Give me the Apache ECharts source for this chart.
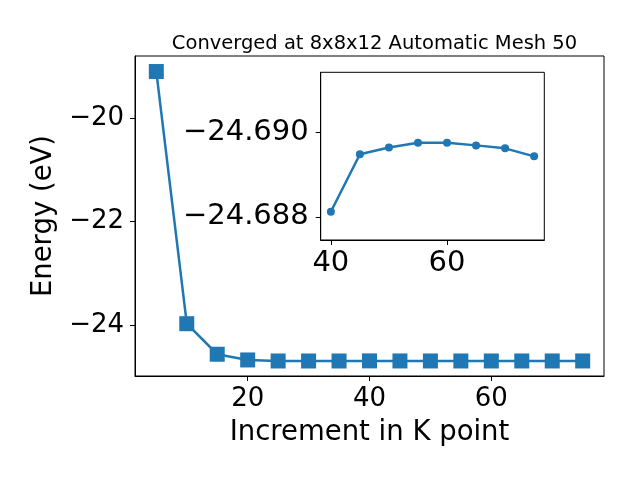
<!DOCTYPE html>
<html><head><meta charset="utf-8">
<script src="https://cdn.jsdelivr.net/npm/echarts@6/dist/echarts.min.js"></script>
<style>html,body{margin:0;padding:0;background:#fff}#c{width:640px;height:480px}</style>
</head><body><div id="c"></div>
<script>
const kPoints = [5,10,15,20,25,30,35,40,45,50,55,60,65,70,75];
const energies = [-19.10,-23.97,-24.56,-24.67,-24.69,-24.69,-24.69,-24.6881,-24.6895,-24.6896,-24.6898,-24.6898,-24.6897,-24.6896,-24.6894];
const insetK = [40,45,50,55,60,65,70,75];
const insetE = [-24.68812,-24.68948,-24.68964,-24.68975,-24.68975,-24.68969,-24.68962,-24.68943];
const mainXTicks = [20,40,60];
const mainYTicks = [-24,-22,-20];
const insetXTicks = [40,60];
const insetYTicks = [-24.690,-24.688];
const titleText = 'Converged at 8x8x12 Automatic Mesh 50';
const xName = 'Increment in K point';
const yName = 'Energy (eV)';

const FONT = 'DejaVu Sans';
const C = '#1f77b4';
const minus = s => String(s).replace('-', '\u2212');
const fmtInt = v => minus(String(Math.round(v)));
const fmt3 = v => minus(v.toFixed(3));

function axisCommon(extra) {
  return Object.assign({
    type: 'value',
    splitLine: {show: false},
    axisLine: {show: true, onZero: false, lineStyle: {color: '#000', width: 1}},
    nameTextStyle: {fontFamily: FONT, fontSize: 27.5, color: '#000'}
  }, extra);
}

const chart = echarts.init(document.getElementById('c'), null, {renderer: 'canvas'});
chart.setOption({
  animation: false,
  backgroundColor: '#fff',
  title: {
    text: titleText, left: 369.5, top: 29, textAlign: 'center',
    textStyle: {fontFamily: FONT, fontSize: 19.5, fontWeight: 'normal', color: '#000'}
  },
  grid: [
    {left: 135, top: 56, width: 469, height: 320, show: true, borderColor: '#000', borderWidth: 1, backgroundColor: '#fff', containLabel: false},
    {left: 320.7, top: 72.3, width: 223.6, height: 167.7, show: true, borderColor: '#000', borderWidth: 1, backgroundColor: '#fff', containLabel: false, z: 10}
  ],
  xAxis: [
    axisCommon({gridIndex: 0, min: 1.5, max: 78.5,
      name: xName, nameLocation: 'middle', nameGap: 43,
      axisTick: {show: true, length: 5, customValues: mainXTicks, lineStyle: {color: '#000'}},
      axisLabel: {customValues: mainXTicks, formatter: fmtInt, fontFamily: FONT, fontSize: 26, color: '#000', margin: 10}}),
    axisCommon({gridIndex: 1, min: 38.25, max: 76.75, z: 11,
      axisTick: {show: true, length: 5, customValues: insetXTicks, lineStyle: {color: '#000'}},
      axisLabel: {customValues: insetXTicks, formatter: fmtInt, fontFamily: FONT, fontSize: 29, color: '#000', margin: 9}})
  ],
  yAxis: [
    axisCommon({gridIndex: 0, min: -24.98, max: -18.8,
      name: yName, nameLocation: 'middle', nameGap: 75,
      axisTick: {show: true, length: 5, customValues: mainYTicks, lineStyle: {color: '#000'}},
      axisLabel: {customValues: mainYTicks, formatter: fmtInt, fontFamily: FONT, fontSize: 26, color: '#000', margin: 11}}),
    axisCommon({gridIndex: 1, min: -24.69142, max: -24.68745, inverse: true, z: 11,
      axisTick: {show: true, length: 5, customValues: insetYTicks, lineStyle: {color: '#000'}},
      axisLabel: {customValues: insetYTicks, formatter: fmt3, fontFamily: FONT, fontSize: 29, color: '#000', margin: 12}})
  ],
  series: [
    {type: 'line', xAxisIndex: 0, yAxisIndex: 0, data: kPoints.map((k, i) => [k, energies[i]]),
      symbol: 'rect', symbolSize: 15, showAllSymbol: true,
      lineStyle: {color: C, width: 2.5}, itemStyle: {color: C}, z: 2},
    {type: 'line', xAxisIndex: 1, yAxisIndex: 1, data: insetK.map((k, i) => [k, insetE[i]]),
      symbol: 'circle', symbolSize: 8, showAllSymbol: true,
      lineStyle: {color: C, width: 2.5}, itemStyle: {color: C}, z: 12}
  ]
});
</script></body></html>
